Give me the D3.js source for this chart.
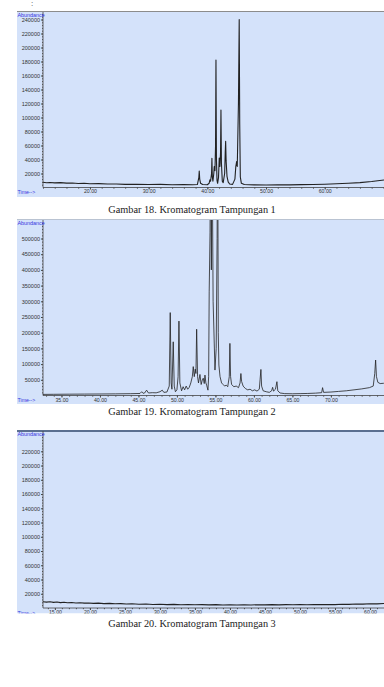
<!DOCTYPE html>
<html>
<head>
<meta charset="utf-8">
<script src="https://cdn.jsdelivr.net/npm/d3@7"></script>
<style>
body{margin:0;background:#fff;}
</style>
</head>
<body>
<div id="chart"></div>
<script>
// chromatogram traces: [time (min), abundance]
var trace1 = [[12.0,7500],[12.6,6800],[13.2,7200],[14.0,6600],[15.0,6900],[16.0,6200],[17.0,6500],[18.0,5800],[19.0,6000],[20.0,5400],[21.5,5600],[23,4900],[24.5,5100],[26,4500],[28,4700],[30,4200],[32,4400],[34,4000],[36,4200],[37.5,3900],[38.3,4200],[38.55,14000],[38.62,23600],[38.7,12000],[38.85,6000],[39.2,4300],[40.0,4000],[40.3,6000],[40.44,11000],[40.55,9000],[40.72,20000],[40.78,41700],[40.85,15000],[40.95,9000],[41.1,20000],[41.18,30000],[41.3,24000],[41.4,60000],[41.47,182000],[41.55,40000],[41.65,10000],[41.75,6000],[41.9,14000],[42.03,42000],[42.15,30000],[42.25,50000],[42.32,110700],[42.4,35000],[42.55,9000],[42.7,7000],[42.95,20000],[43.05,50000],[43.12,66000],[43.2,38000],[43.35,16000],[43.55,8000],[43.8,5000],[44.3,4500],[44.7,12000],[44.85,30000],[44.99,37000],[45.1,30000],[45.3,120000],[45.43,240000],[45.52,90000],[45.62,15000],[45.8,6000],[46.3,4200],[48,3800],[50,3600],[52,3900],[54,3700],[56,4100],[58,4300],[60,4700],[62,5300],[64,6000],[66,7000],[68,8500],[70.1,10700]];

var trace2 = [[32.6,3500],[34,3800],[36,4200],[38,4500],[40,4800],[42,5200],[44,5800],[45.2,6500],[45.42,12000],[45.6,7000],[45.8,8000],[46.06,17000],[46.3,8000],[46.8,9000],[47.3,8500],[47.8,12000],[48.09,17000],[48.3,10000],[48.7,11000],[49.0,30000],[49.13,264000],[49.25,40000],[49.35,20000],[49.52,171000],[49.65,30000],[49.8,12000],[50.0,18000],[50.15,60000],[50.26,237000],[50.38,40000],[50.6,15000],[50.8,28000],[51.0,18000],[51.2,30000],[51.4,20000],[51.6,26000],[51.8,40000],[52.0,60000],[52.12,92000],[52.25,60000],[52.38,84000],[52.47,70000],[52.56,211000],[52.68,60000],[52.8,40000],[52.99,67000],[53.15,35000],[53.3,50000],[53.42,55000],[53.55,38000],[53.64,65000],[53.76,40000],[53.86,33000],[54.03,17000],[54.12,60000],[54.19,330000],[54.3,520000],[54.38,900000],[54.47,400000],[54.55,900000],[54.7,300000],[54.94,81000],[55.1,150000],[55.22,500000],[55.29,900000],[55.37,200000],[55.45,97000],[55.6,60000],[55.8,40000],[56.0,35000],[56.2,30000],[56.4,33000],[56.6,28000],[56.8,60000],[56.88,166000],[56.97,60000],[57.1,35000],[57.4,28000],[57.7,30000],[58.0,25000],[58.2,40000],[58.31,70000],[58.4,45000],[58.6,30000],[58.9,22000],[59.2,18000],[59.5,20000],[59.8,15000],[60.1,18000],[60.4,14000],[60.7,20000],[60.8,50000],[60.91,83000],[61.0,30000],[61.2,15000],[61.6,12000],[62.0,10000],[62.3,15000],[62.43,26000],[62.55,14000],[62.8,20000],[62.99,44000],[63.1,15000],[63.4,8000],[64,6000],[65,5500],[66,6000],[67,6500],[68,7500],[68.8,9000],[68.92,25000],[69.05,10000],[70,11000],[71,13000],[72,15000],[73,18000],[74,21000],[75,25000],[75.5,30000],[75.7,70000],[75.81,113000],[75.92,60000],[76.1,42000],[76.4,38000],[76.88,39000]];

var trace3 = [[13.3,8800],[13.8,8200],[14.3,8700],[14.8,7900],[15.3,8400],[15.8,7600],[16.3,8000],[16.8,7300],[17.4,7700],[18,7000],[18.6,7400],[19.2,6800],[19.8,7100],[20.5,6500],[21.2,6800],[22,6200],[22.8,6500],[23.6,5900],[24.4,6200],[25.2,5600],[26,5900],[27,5300],[28,5600],[29,5000],[30,5300],[31,4800],[32,5100],[33,4600],[34,4900],[35,4500],[36,4800],[37,4400],[38,4700],[39,4300],[40,4600],[41,4300],[42,4600],[43,4300],[44,4600],[45,4400],[46,4700],[47,4400],[48,4700],[49,4500],[50,4800],[51,4500],[52,4900],[53,4700],[54,5000],[55,4800],[56,5300],[57,5100],[58,5600],[59,5400],[60,6000],[61,5800],[62,6400]];

var yTicks1 = [20000,40000,60000,80000,100000,120000,140000,160000,180000,200000,220000,240000];
var yTicks2 = [50000,100000,150000,200000,250000,300000,350000,400000,450000,500000];
var yTicks3 = [20000,40000,60000,80000,100000,120000,140000,160000,180000,200000,220000];
var xTicks1 = [20,30,40,50,60];
var xTicks2 = [35,40,45,50,55,60,65,70];
var xTicks3 = [15,20,25,30,35,40,45,50,55,60];
var captions = ["Gambar 18. Kromatogram Tampungan 1", "Gambar 19. Kromatogram Tampungan 2", "Gambar 20. Kromatogram Tampungan 3"];

var W = 384, H = 687;

var svg = d3.select("#chart")
  .append("svg")
    .attr("width", W)
    .attr("height", H);

svg.append("text")
    .attr("x", 31)
    .attr("y", 6)
    .attr("font-family", "Liberation Serif")
    .attr("font-size", "8px")
    .attr("fill", "#444")
    .text(":");

var panels = [
  {trace: trace1, yTicks: yTicks1, xTicks: xTicks1, minorX: 2, minorY: 4000, xDomain: [12.0, 70.1], yMax: 240000, yTop: 19.5, y0: 187.5, top: 11, bottom: 197, border: "#8c8c8c", bw: 1, capY: 213},
  {trace: trace2, yTicks: yTicks2, xTicks: xTicks2, minorX: 1, minorY: 10000, xDomain: [32.6, 76.9], yMax: 500000, yTop: 238.5, y0: 395.5, top: 219, bottom: 404, border: "#b9c3d2", bw: 1, capY: 415},
  {trace: trace3, yTicks: yTicks3, xTicks: xTicks3, minorX: 1, minorY: 4000, xDomain: [13.3, 62.0], yMax: 220000, yTop: 451.3, y0: 608, top: 430, bottom: 613.5, border: "#5a6f90", bw: 2, capY: 627}
];

panels.forEach(function(p, i) {
  var clipId = "clip" + i;
  svg.append("clipPath").attr("id", clipId)
    .append("rect")
      .attr("x", 17).attr("y", p.top)
      .attr("width", W - 17).attr("height", p.bottom - p.top);

  var pClipId = "pclip" + i;
  svg.append("clipPath").attr("id", pClipId)
    .append("rect")
      .attr("x", 43).attr("y", p.top + 1)
      .attr("width", W - 43).attr("height", p.y0 - p.top + 2);

  var g = svg.append("g").attr("clip-path", "url(#" + clipId + ")");

  g.append("rect")
      .attr("x", 17).attr("y", p.top)
      .attr("width", W - 17).attr("height", p.bottom - p.top)
      .attr("fill", "#d4e2fa");

  g.append("line")
      .attr("x1", 17).attr("x2", W)
      .attr("y1", p.top + p.bw / 2).attr("y2", p.top + p.bw / 2)
      .attr("stroke", p.border).attr("stroke-width", p.bw);

  var x = d3.scaleLinear().domain(p.xDomain).range([43, W]);
  var y = d3.scaleLinear().domain([0, p.yMax]).range([p.y0, p.yTop]);

  // Y axis
  var yAxis = g.append("g")
      .attr("transform", "translate(43,0)")
      .call(d3.axisLeft(y).tickValues(p.yTicks).tickSize(2).tickPadding(1).tickFormat(d3.format("d")));
  yAxis.select(".domain").remove();
  yAxis.selectAll("line").attr("stroke", "#444");
  yAxis.selectAll("text")
      .attr("font-family", "Arial, Liberation Sans")
      .attr("font-size", "5.5px")
      .attr("fill", "#333");

  var minorYs = d3.range(p.minorY, y.invert(p.top + 2), p.minorY);
  g.append("g")
      .attr("transform", "translate(43,0)")
      .call(d3.axisLeft(y).tickValues(minorYs).tickSize(1).tickFormat(""))
      .call(function(a) { a.select(".domain").remove(); a.selectAll("line").attr("stroke", "#555"); });

  g.append("line")
      .attr("x1", 43).attr("x2", 43)
      .attr("y1", p.top + 1).attr("y2", p.y0)
      .attr("stroke", "#444").attr("stroke-width", 0.8);

  // X axis
  var xAxis = g.append("g")
      .attr("transform", "translate(0," + p.y0 + ")")
      .call(d3.axisBottom(x).tickValues(p.xTicks).tickSize(2).tickPadding(i == 1 ? 1 : 0).tickFormat(d3.format(".2f")));
  xAxis.select(".domain").remove();
  xAxis.selectAll("line").attr("stroke", "#444");
  xAxis.selectAll("text")
      .attr("font-family", "Arial, Liberation Sans")
      .attr("font-size", "5.2px")
      .attr("fill", "#333");

  var minorXs = d3.range(Math.ceil(p.xDomain[0]), p.xDomain[1], p.minorX);
  g.append("g")
      .attr("transform", "translate(0," + p.y0 + ")")
      .call(d3.axisBottom(x).tickValues(minorXs).tickSize(1.2).tickFormat(""))
      .call(function(a) { a.select(".domain").remove(); a.selectAll("line").attr("stroke", "#555"); });

  g.append("line")
      .attr("x1", 43).attr("x2", W)
      .attr("y1", p.y0).attr("y2", p.y0)
      .attr("stroke", "#444").attr("stroke-width", 0.8);

  // labels
  g.append("text")
      .attr("x", 17.5).attr("y", p.top + 5.5)
      .attr("font-family", "Arial, Liberation Sans")
      .attr("font-size", "5.4px")
      .attr("fill", "#3434e0")
      .text("Abundance");

  g.append("text")
      .attr("x", 17.5).attr("y", p.y0 + 6.5)
      .attr("font-family", "Arial, Liberation Sans")
      .attr("font-size", "5.2px")
      .attr("fill", "#3434e0")
      .text("Time-->");

  // trace
  var line = d3.line()
      .x(function(d) { return x(d[0]); })
      .y(function(d) { return y(d[1]); });

  svg.append("g")
      .attr("clip-path", "url(#" + pClipId + ")")
    .append("path")
      .datum(p.trace)
      .attr("d", line)
      .attr("fill", "none")
      .attr("stroke", "#222")
      .attr("stroke-width", i == 1 ? 0.8 : 1.1)
      .attr("stroke-linejoin", "round");

  svg.append("text")
      .attr("x", 192).attr("y", p.capY)
      .attr("text-anchor", "middle")
      .attr("font-family", "Liberation Serif, Times New Roman")
      .attr("font-size", "10.3px")
      .attr("fill", "#222")
      .text(captions[i]);
});
</script>
</body>
</html>
